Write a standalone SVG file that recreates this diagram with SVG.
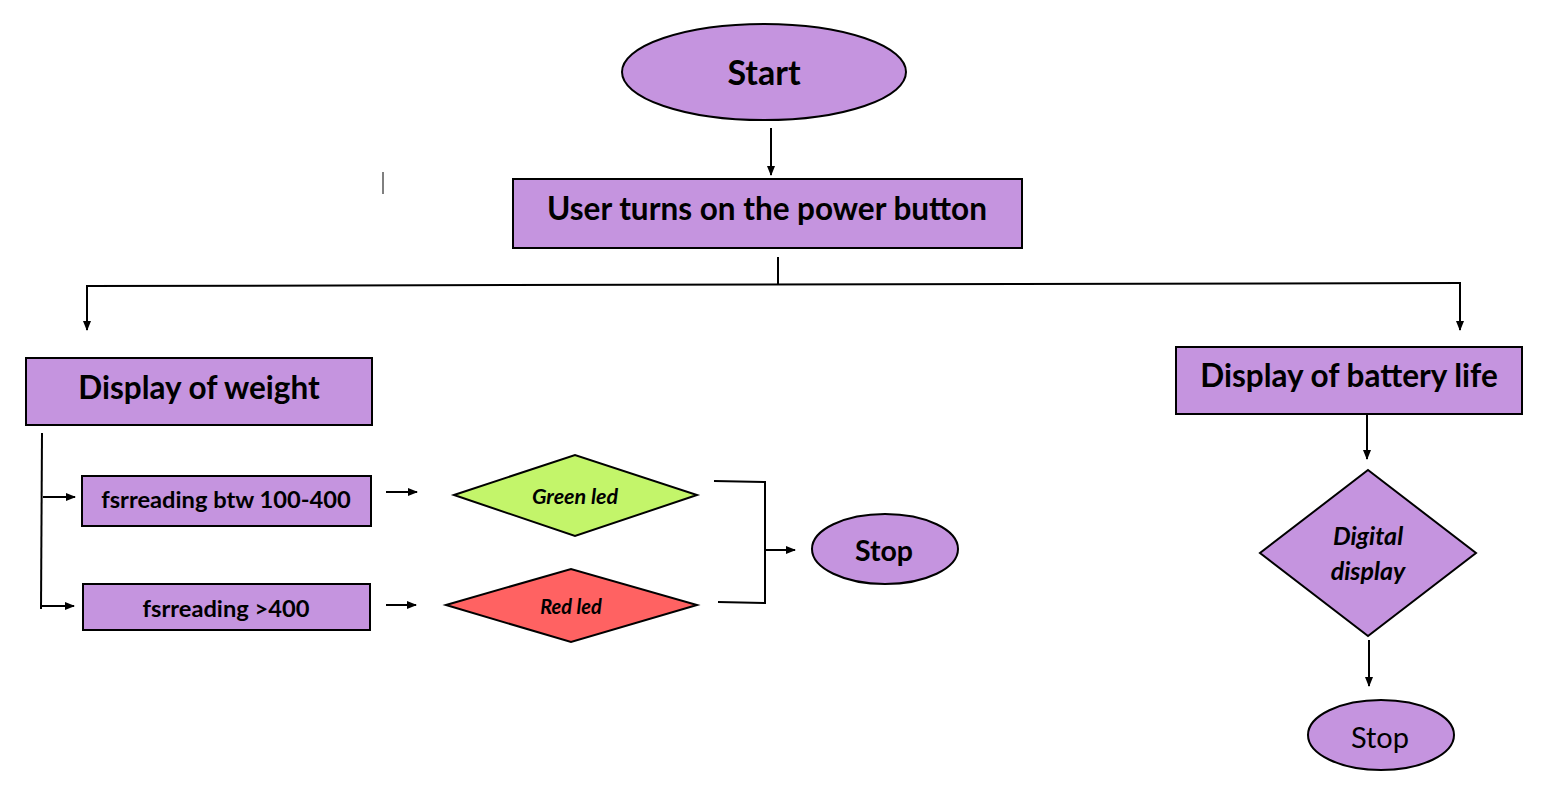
<svg xmlns="http://www.w3.org/2000/svg" width="1545" height="801" viewBox="0 0 1545 801">
<defs>
<marker id="ah" markerWidth="10" markerHeight="10" refX="9" refY="5" orient="auto" markerUnits="userSpaceOnUse">
<path d="M0,1 L10,5 L0,9 z" fill="#000"/>
</marker>
<style>
.n{fill:#C594DF;stroke:#000;stroke-width:2}
.t{font-family:Lato,"Open Sans",sans-serif;font-weight:bold;fill:#000;text-anchor:middle;dominant-baseline:central}
.i{font-style:italic}
.r{font-weight:normal}
.c{fill:none;stroke:#000;stroke-width:2}
</style>
</defs>
<rect width="1545" height="801" fill="#fff"/>
<g id="connectors">
<line class="c" x1="771" y1="128" x2="771" y2="175" marker-end="url(#ah)"/>
<line x1="383" y1="172" x2="383" y2="194" stroke="#000" stroke-width="1"/>
<line class="c" x1="778" y1="257" x2="778" y2="285"/>
<line class="c" x1="86" y1="286" x2="1461" y2="283"/>
<line class="c" x1="87" y1="286" x2="87" y2="330" marker-end="url(#ah)"/>
<line class="c" x1="1460" y1="283" x2="1460" y2="330" marker-end="url(#ah)"/>
<line class="c" x1="42" y1="433" x2="41" y2="609"/>
<line class="c" x1="43" y1="497" x2="75" y2="497" marker-end="url(#ah)"/>
<line class="c" x1="41" y1="606" x2="74" y2="606" marker-end="url(#ah)"/>
<line class="c" x1="386" y1="492" x2="417" y2="492" marker-end="url(#ah)"/>
<line class="c" x1="386" y1="605" x2="416" y2="605" marker-end="url(#ah)"/>
<polyline class="c" points="714,481 765,482 765,603 718,602"/>
<line class="c" x1="765" y1="550" x2="795" y2="550" marker-end="url(#ah)"/>
<line class="c" x1="1367" y1="414" x2="1367" y2="459" marker-end="url(#ah)"/>
<line class="c" x1="1369" y1="640" x2="1369" y2="686" marker-end="url(#ah)"/>
</g>
<g id="start">
<ellipse class="n" cx="764" cy="72" rx="142" ry="48"/>
<text class="t" x="764" y="71" font-size="34">Start</text>
</g>
<g id="power">
<rect class="n" x="513" y="179" width="509" height="69"/>
<text class="t" x="767" y="208" font-size="31.5">User turns on the power button</text>
</g>
<g id="weight">
<rect class="n" x="26" y="358" width="346" height="67"/>
<text class="t" x="199" y="387" font-size="31.5">Display of weight</text>
</g>
<g id="battery">
<rect class="n" x="1176" y="347" width="346" height="67"/>
<text class="t" x="1349" y="375" font-size="31.5">Display of battery life</text>
</g>
<g id="fsr1">
<rect class="n" x="82" y="476" width="289" height="50"/>
<text class="t" x="226" y="499" font-size="23.7">fsrreading btw 100-400</text>
</g>
<g id="fsr2">
<rect class="n" x="83" y="584" width="287" height="46"/>
<text class="t" x="226" y="608" font-size="23.7">fsrreading &gt;400</text>
</g>
<g id="green">
<polygon points="454,495 575,455 697,495 575,536" fill="#C3F56A" stroke="#000" stroke-width="2"/>
<text class="t i" x="575" y="496" font-size="21.5">Green led</text>
</g>
<g id="red">
<polygon points="446,605 571,569 697,605 571,642" fill="#FF6262" stroke="#000" stroke-width="2"/>
<text class="t i" x="571" y="606" font-size="20">Red led</text>
</g>
<g id="stop1">
<ellipse class="n" cx="885" cy="549" rx="73" ry="35"/>
<text class="t" x="884" y="550" font-size="28.5">Stop</text>
</g>
<g id="digital">
<polygon class="n" points="1368,470 1476,553 1368,636 1260,553"/>
<text class="t i" x="1368" y="535" font-size="25">Digital</text>
<text class="t i" x="1368" y="570" font-size="25">display</text>
</g>
<g id="stop2">
<ellipse class="n" cx="1381" cy="735" rx="73" ry="35"/>
<text class="t r" x="1380" y="736" font-size="29">Stop</text>
</g>
</svg>
